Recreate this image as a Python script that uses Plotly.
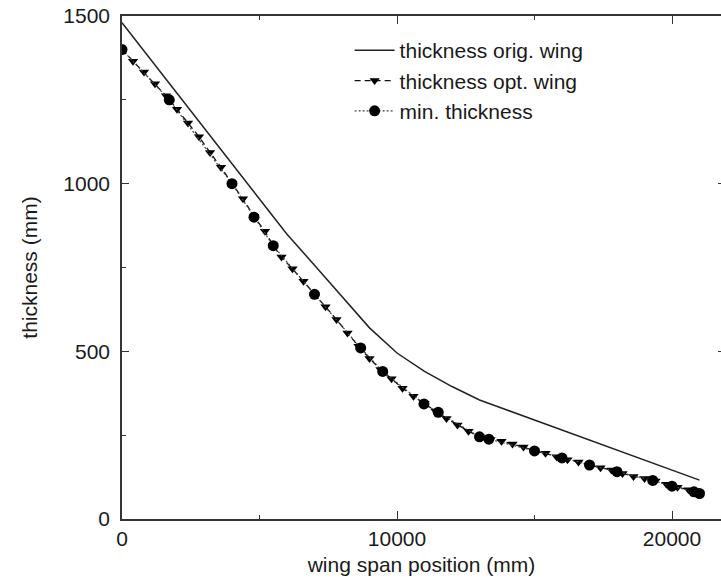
import plotly.graph_objects as go

# ---- data ----
orig_x = [0, 1000, 2000, 3000, 4000, 5000, 6000, 7000, 8000, 9000, 10000, 11000,
          12000, 13000, 14000, 15000, 16000, 17000, 18000, 19000, 20000, 21000]
orig_y = [1480, 1375, 1270, 1165, 1060, 955, 849, 757, 664, 570, 495, 440,
          395, 355, 325, 295, 265, 235, 205, 175, 145, 116]

opt_x = [0, 400, 800, 1200, 1600, 2000, 2400, 2800, 3200, 3600, 4000, 4400, 4800,
         5200, 5500, 5800, 6200, 6600, 7000, 7400, 7800, 8200, 8600, 9000, 9400,
         9800, 10200, 10600, 11000, 11400, 11800, 12200, 12600, 13000, 13400,
         13800, 14200, 14600, 15000, 15400, 15800, 16200, 16600, 17000, 17400,
         17800, 18200, 18600, 19000, 19400, 19800, 20200, 20600, 21000]
opt_y = [1400, 1365, 1333, 1298, 1262, 1222, 1181, 1140, 1093, 1049, 1000, 955, 902,
         858, 815, 781, 746, 709, 670, 633, 595, 555, 515, 479, 446,
         418, 390, 366, 345, 322, 300, 280, 262, 245, 237,
         232, 224, 215, 203, 196, 186, 177, 170, 161, 153,
         146, 136, 127, 121, 113, 104, 95, 87, 77]

min_x = [0, 1720, 4000, 4800, 5500, 7000, 8680, 9480, 10980, 11500, 13000, 13340,
         15000, 16000, 17000, 18000, 19300, 20000, 20800, 21000]
min_y = [1400, 1250, 1000, 900, 815, 670, 510, 440, 343, 318, 245, 238,
         203, 182, 161, 141, 115, 98, 81, 76]

x_ticks = [0, 10000, 20000]
y_ticks = [0, 500, 1000, 1500]

FONT = "Liberation Sans, Arial, Helvetica, sans-serif"
INK = "#1a1a1a"
AXC = "#333333"
FS = 21

fig = go.Figure()
fig.add_trace(go.Scatter(x=orig_x, y=orig_y, mode="lines",
                         name="thickness orig. wing",
                         line=dict(color="#222222", width=1.5)))
fig.add_trace(go.Scatter(x=opt_x, y=opt_y, mode="lines+markers",
                         name="thickness opt. wing",
                         line=dict(color="#111111", width=1.3, dash="6px,4px"),
                         marker=dict(symbol="triangle-down", size=9, color="black")))
fig.add_trace(go.Scatter(x=min_x, y=min_y, mode="lines+markers",
                         name="min. thickness",
                         line=dict(color="#444444", width=1.2, dash="2px,2px"),
                         marker=dict(symbol="circle", size=11, color="black")))
# invisible trace to carry right-hand ticks
fig.add_trace(go.Scatter(x=[0], y=[0], yaxis="y2", mode="markers",
                         marker=dict(opacity=0), showlegend=False, hoverinfo="skip"))

fig.update_layout(
    width=721, height=580,
    margin=dict(l=122, r=0, t=16, b=61),
    paper_bgcolor="white", plot_bgcolor="white",
    font=dict(family=FONT, size=FS, color=INK),
    showlegend=True,
    legend=dict(x=0.38, y=0.972, xanchor="left", yanchor="top",
                bgcolor="rgba(0,0,0,0)", font=dict(size=FS, color=INK),
                itemwidth=40, tracegroupgap=0),
    xaxis=dict(range=[0, 21782], tickvals=x_ticks, ticktext=[str(v) for v in x_ticks],
               ticks="inside", ticklen=8, tickcolor=AXC, tickwidth=1.2,
               minor=dict(dtick=5000, tick0=0, ticks="inside", ticklen=4,
                          tickcolor=AXC, showgrid=False),
               showline=True, linecolor=AXC, linewidth=1.5, mirror="ticks",
               showgrid=False, zeroline=False,
               title=dict(text="wing span position (mm)", standoff=8,
                          font=dict(size=FS, color=INK)),
               tickfont=dict(size=FS, color=INK)),
    yaxis=dict(range=[0, 1500], tickvals=y_ticks, ticktext=[str(v) for v in y_ticks],
               ticks="inside", ticklen=7, tickcolor=AXC, tickwidth=1.2,
               ticklabelstandoff=6,
               minor=dict(dtick=250, tick0=0, ticks="inside", ticklen=4,
                          tickcolor=AXC, showgrid=False),
               showline=True, linecolor=AXC, linewidth=1.5, mirror=False,
               showgrid=False, zeroline=False,
               title=dict(text="thickness (mm)", standoff=20,
                          font=dict(size=FS, color=INK)),
               tickfont=dict(size=FS, color=INK)),
    yaxis2=dict(range=[0, 1500], overlaying="y", side="right", anchor="x",
                tickvals=y_ticks, ticks="inside", ticklen=3, tickcolor=AXC,
                showticklabels=False, showline=False, showgrid=False, zeroline=False),
)

fig.write_html("out.html")
